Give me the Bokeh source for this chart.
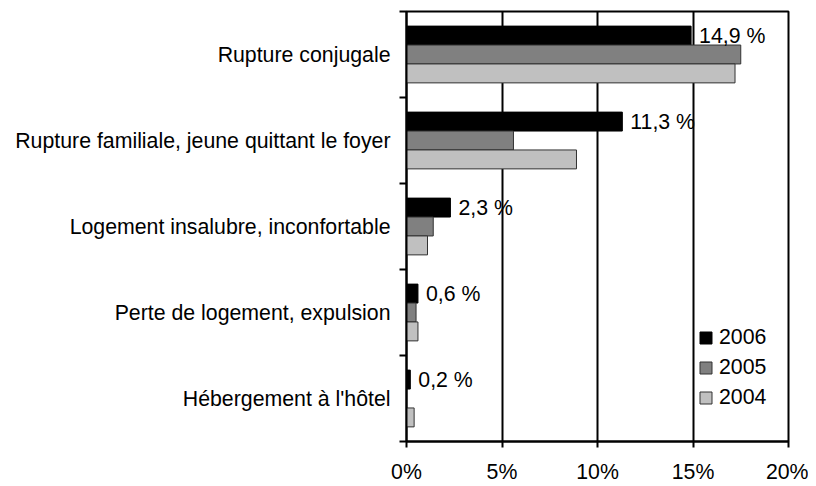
from bokeh.plotting import figure
from bokeh.models import (Range1d, FixedTicker, PrintfTickFormatter, Legend,
                          LegendItem, ColumnDataSource)
from bokeh.transform import dodge
from bokeh.embed import file_html
from bokeh.resources import INLINE
from bokeh.core.properties import value

categories = ["Rupture conjugale",
              "Rupture familiale, jeune quittant le foyer",
              "Logement insalubre, inconfortable",
              "Perte de logement, expulsion",
              "Hébergement à l'hôtel"]
years = ["2006", "2005", "2004"]
v2006 = [14.9, 11.3, 2.3, 0.6, 0.2]
v2005 = [17.5, 5.6, 1.4, 0.5, 0.0]
v2004 = [17.2, 8.9, 1.1, 0.6, 0.4]
x_ticks = [0, 5, 10, 15, 20]

FONT = "Liberation Sans"
FS = "21.3px"
colors = {"2006": "#000000", "2005": "#808080", "2004": "#c0c0c0"}
offsets = {"2006": 0.22, "2005": 0.0, "2004": -0.22}

n = len(categories)
ypos = [n - i - 0.5 for i in range(n)]
labels = [("%.1f" % v).replace(".", ",") + " %" for v in v2006]

src = ColumnDataSource(dict(y=ypos, cat=categories, v2006=v2006, v2005=v2005,
                            v2004=v2004, lab=labels))

p = figure(width=808, height=486, output_backend="svg", toolbar_location=None,
           x_range=Range1d(0, 20), y_range=Range1d(0, n),
           min_border_left=406, min_border_right=20, min_border_top=11,
           min_border_bottom=43, background_fill_color="white",
           border_fill_color="white")
p.outline_line_color = "black"
p.outline_line_width = 2

renderers = {}
for yr in years:
    lc = "#000000" if yr == "2006" else "#333333"
    r = p.hbar(y=dodge("y", offsets[yr], range=p.y_range), right="v" + yr, left=0,
               height=0.22, source=src, fill_color=colors[yr], line_color=lc,
               line_width=1)
    renderers[yr] = r

p.text(x="v2006", y=dodge("y", offsets["2006"], range=p.y_range), text="lab",
       source=src, x_offset=8, text_baseline="middle", text_align="left",
       text_font=value(FONT), text_font_size=FS, text_color="black")

# x axis
p.xaxis.ticker = FixedTicker(ticks=x_ticks)
p.xaxis.formatter = PrintfTickFormatter(format="%d%%")
p.xaxis.major_tick_out = 6
p.xaxis.major_tick_in = 0
p.xaxis.minor_tick_line_color = None
p.xaxis.axis_line_color = "black"
p.xaxis.axis_line_width = 2
p.xaxis.major_tick_line_width = 2
p.xaxis.major_label_standoff = 12
p.xaxis.major_label_text_font = FONT
p.xaxis.major_label_text_font_size = FS
p.xaxis.major_label_text_color = "black"

# y axis: labels at category centers, ticks at boundaries
p.yaxis.ticker = FixedTicker(ticks=ypos, minor_ticks=list(range(n + 1)))
p.yaxis.major_label_overrides = {y: c for y, c in zip(ypos, categories)}
p.yaxis.major_tick_line_color = None
p.yaxis.major_tick_out = 7
p.yaxis.major_tick_in = 0
p.yaxis.minor_tick_out = 7
p.yaxis.minor_tick_in = 0
p.yaxis.minor_tick_line_color = "black"
p.yaxis.minor_tick_line_width = 2
p.yaxis.axis_line_color = "black"
p.yaxis.axis_line_width = 2
p.yaxis.major_label_standoff = 9
p.yaxis.major_label_text_font = FONT
p.yaxis.major_label_text_font_size = FS
p.yaxis.major_label_text_color = "black"

p.xgrid.ticker = FixedTicker(ticks=x_ticks)
p.xgrid.grid_line_color = "black"
p.xgrid.grid_line_width = 2
p.ygrid.grid_line_color = None

legend = Legend(items=[LegendItem(label=yr, renderers=[renderers[yr]]) for yr in years],
                location=(292, 31), glyph_width=15, glyph_height=15,
                label_standoff=6, spacing=5, padding=12, margin=0,
                label_text_font=FONT, label_text_font_size=FS,
                label_text_color="black", border_line_color=None,
                background_fill_color="white", background_fill_alpha=1.0)
p.add_layout(legend, "center")

open("out.html", "w").write(file_html(p, INLINE))
